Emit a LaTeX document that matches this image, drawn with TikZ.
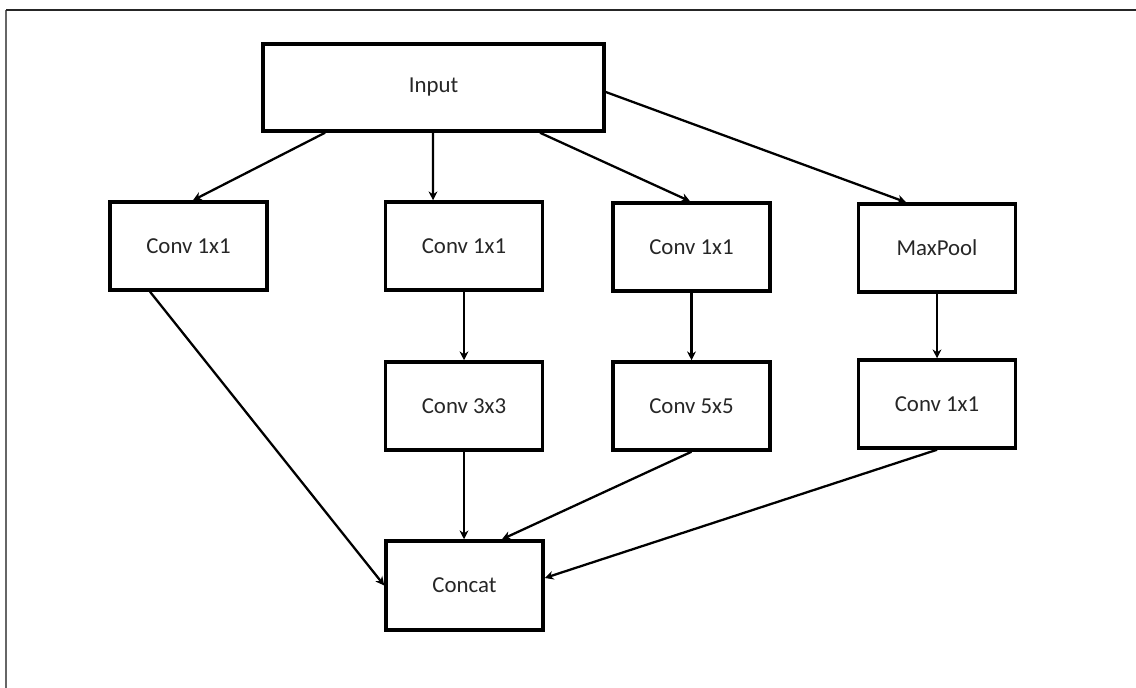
\documentclass[tikz,border=0pt]{standalone}
\usepackage{fontspec}
\setmainfont{Carlito}
\usetikzlibrary{calc,arrows.meta}

\begin{document}
\begin{tikzpicture}[x=0.02cm,y=-0.02cm,
box/.style={draw,line width=2pt,minimum width=3.14cm,minimum height=1.76cm,inner sep=0,font=\fontsize{13}{15}\selectfont,text=black!85},
link/.style={line width=1.3pt,-{Stealth[length=5pt,width=5pt]}},
frame/.style={line width=1.2pt}]
	\useasboundingbox (0,0) rectangle (1136,688);
	\draw[frame,black!60] (6,688) -- (6,10);
	\draw[frame,black!85] (6,10) -- (1136,10);

	\node[box,minimum width=6.82cm,minimum height=1.74cm] at (433.5,87.5) (in) {Input};
	\node[box] at (188.5,246) (a1) {Conv 1x1};
	\node[box] at (464,246) (b1) {Conv 1x1};
	\node[box] at (691.5,247) (c1) {Conv 1x1};
	\node[box] at (937,248) (mp) {MaxPool};
	\node[box] at (464,406) (b3) {Conv 3x3};
	\node[box] at (691.5,406) (c5) {Conv 5x5};
	\node[box] at (937,404) (d1) {Conv 1x1};
	\node[box,minimum height=1.78cm] at (464.5,585.5) (cat) {Concat};

	%input to branches
	\draw[link] ([xshift=-2.17cm]in.south) -- ([xshift=0.09cm]a1.north);
	\draw[link] ([xshift=-0.01cm]in.south) -- ([xshift=-0.62cm]b1.north);
	\draw[link] ([xshift=2.13cm]in.south) -- ([xshift=-0.03cm]c1.north);
	\draw[link] ([yshift=-0.09cm]in.east) -- ([xshift=-0.62cm]mp.north);
	%second layer
	\draw[link] (b1.south) -- (b3.north);
	\draw[link] (c1.south) -- (c5.north);
	\draw[link] (mp.south) -- (d1.north);
	%to concat
	\draw[link] ([xshift=-0.77cm]a1.south) -- (cat.west);
	\draw[link] (b3.south) -- (b3.south |- cat.north);
	\draw[link] (c5.south) -- ([xshift=0.75cm]cat.north);
	\draw[link] (d1.south) -- ([yshift=0.15cm]cat.east);
\end{tikzpicture}
\end{document}
